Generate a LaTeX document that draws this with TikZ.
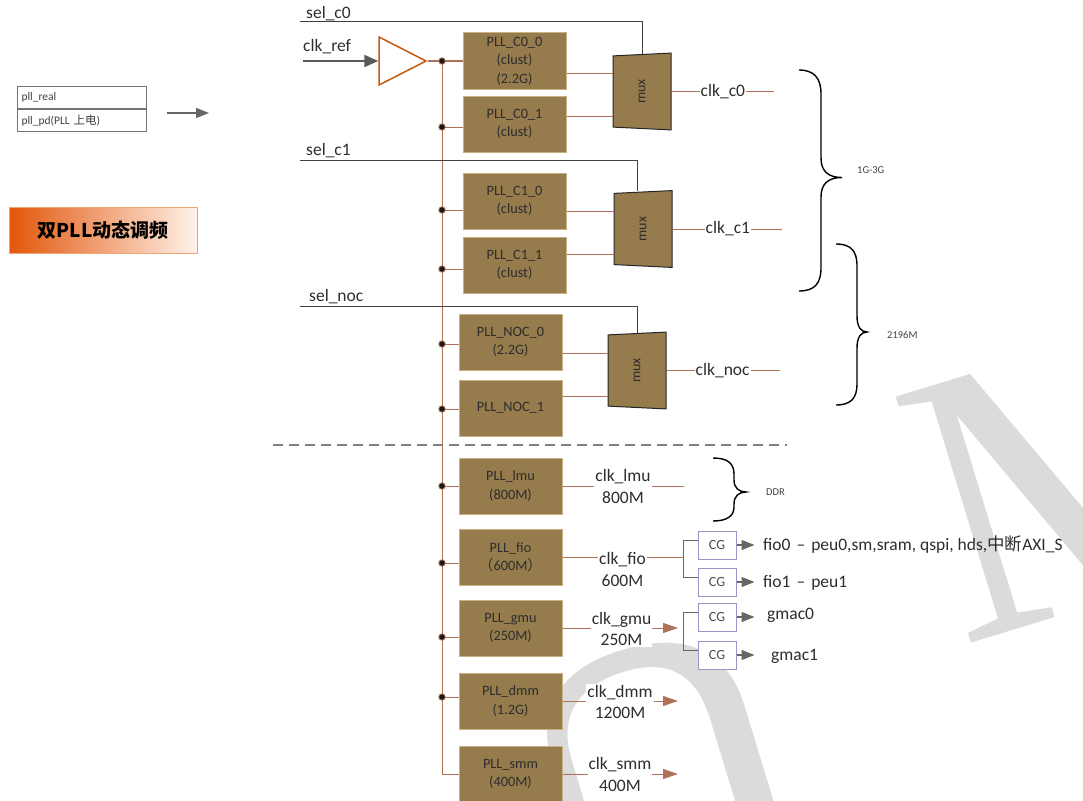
\documentclass[tikz,border=0pt]{standalone}
\usepackage{fontspec}
\setmainfont{Carlito}
\newfontfamily\cjk{Noto Sans CJK SC}
\newfontfamily\filifont{Liberation Serif}
\usetikzlibrary{positioning,shapes.geometric,arrows.meta}

\definecolor{brun}{RGB}{176,114,86}
\definecolor{bronze}{RGB}{150,123,76}
\definecolor{bordpll}{RGB}{200,178,132}
\definecolor{encre}{RGB}{45,45,45}
\definecolor{orangefonce}{RGB}{226,86,10}
\definecolor{orangebuf}{RGB}{197,90,17}
\definecolor{bordcg}{RGB}{150,150,200}

\tikzstyle{pll}=[rectangle,draw=bordpll,fill=bronze,line width=1pt,minimum width=103,minimum height=56,align=center,inner sep=0,text=encre,font=\fontsize{14.3}{18.5}\selectfont]
\tikzstyle{mux}=[trapezium,trapezium stretches=true,trapezium angle=82,rotate=90,draw=black!85,fill=bronze,line width=1pt,minimum width=77,minimum height=58,inner sep=0,text=encre,font=\fontsize{14}{16}\selectfont]
\tikzstyle{tampon}=[isosceles triangle,isosceles triangle stretches,draw=orangebuf,fill=white,line width=1.5pt,minimum width=48,minimum height=47,inner sep=0]
\tikzstyle{bus}=[draw=brun,line width=1pt]
\tikzstyle{sel}=[draw=black!75,line width=1pt]
\tikzstyle{pastille}=[circle,fill=black!90,draw=brun,line width=0.8pt,inner sep=0,minimum size=6.5]
\tikzstyle{cg}=[rectangle,draw=bordcg,fill=white,line width=1pt,minimum width=38,minimum height=28,inner sep=0,text=black!70,font=\fontsize{14}{16}\selectfont]
\tikzstyle{etiq}=[inner sep=1pt,text=encre,font=\fontsize{17.5}{21.5}\selectfont]
\tikzstyle{freq}=[etiq,fill=white,align=center]
\tikzstyle{petit}=[inner sep=0,text=black!75,font=\fontsize{10.5}{12}\selectfont]
\tikzstyle{legende}=[rectangle,draw=black!55,line width=0.8pt,minimum height=22,text width=120,inner xsep=4.5pt,inner ysep=0,align=left,text=black!75,font=\fontsize{11.5}{13}\selectfont]
\tikzstyle{titre}=[rectangle,draw={rgb,255:red,240;green,165;blue,120},line width=0.8pt,left color=orangefonce,middle color={rgb,255:red,245;green,135;blue,70},right color={rgb,255:red,255;green,242;blue,234},minimum width=188,minimum height=46,font=\cjk\bfseries\fontsize{19}{22}\selectfont]
\tikzstyle{accolade}=[draw=black,line width=1.4pt]
\tikzstyle{fourche}=[draw=black!60,line width=1pt]
\tikzstyle{flechegrise}=[draw=black!60,line width=1.2pt,-{Triangle[length=13pt,width=10pt]}]
\tikzstyle{flechebrune}=[draw=brun,line width=1pt,-{Triangle[length=15pt,width=10pt]}]
\tikzstyle{separateur}=[draw=black!50,line width=1.2pt,dash pattern=on 10pt off 6pt]
\tikzstyle{filigrane}=[inner sep=0,text=black!14,font=\filifont\fontsize{393}{393}\selectfont]

\begin{document}
\begin{tikzpicture}[x=1pt,y=-1pt]
\useasboundingbox (0,0) rectangle (1083,800);

% filigrane
\node[filigrane,rotate=197,anchor=south] (filiu) at (623,650) {U};
\node[filigrane,rotate=17,anchor=north west] (filim) at (885,400) {M};

% legende et titre
\node[legende] (leg1) at (81.5,97.5) {pll\_real};
\node[legende,below=0pt of leg1] (leg2) {pll\_pd(PLL {\cjk 上电})};
\coordinate (legA) at (167,113);
\coordinate (legB) at (209,113);
\draw[flechegrise] (legA) -- (legB);
\node[titre] (titre) at (103,230) {双PLL动态调频};

% entree et tampon
\node[tampon,anchor=apex] (buf) at (428,61) {};
\node[etiq,anchor=base west] (lclkref) at (302,52) {clk\_ref};
\coordinate (clkref) at (303,61);
\draw[draw=black!65,line width=2pt,-{Triangle[length=14pt,width=12pt]}] (clkref) -- (buf.west);

% PLL
\node[pll] (pllc00) at (514.5,61) {PLL\_C0\_0\\(clust)\\(2.2G)};
\node[pll] (pllc01) at (514.5,124) {PLL\_C0\_1\\(clust)};
\node[pll] (pllc10) at (514.5,201) {PLL\_C1\_0\\(clust)};
\node[pll] (pllc11) at (514.5,265) {PLL\_C1\_1\\(clust)};
\node[pll] (pllnoc0) at (510.5,342) {PLL\_NOC\_0\\(2.2G)};
\node[pll] (pllnoc1) at (510.5,408) {PLL\_NOC\_1};
\node[pll] (plllmu) at (510.5,486) {PLL\_lmu\\(800M)};
\node[pll] (pllfio) at (510.5,557) {PLL\_fio\\{\cjk （}600M{\cjk ）}};
\node[pll] (pllgmu) at (510.5,628) {PLL\_gmu\\(250M)};
\node[pll] (plldmm) at (510.5,701) {PLL\_dmm\\(1.2G)};
\node[pll] (pllsmm) at (510.5,774) {PLL\_smm\\(400M)};

% bus de reference
\coordinate (bus) at (442,61);
\draw[bus] (buf.apex) -- (pllc00.west);
\draw[bus] (bus) -- (bus |- pllsmm.west) -- (pllsmm.west);
\foreach \n/\y in {pllc01/127,pllc10/210,pllc11/269,pllnoc0/344,pllnoc1/409,plllmu/486,pllfio/563,pllgmu/637,plldmm/697}
  \draw[bus] (442,\y) -- (\n.west |- 442,\y);
\foreach \y in {61,127,210,269,344,409,486,563,637,697}
  \node[pastille] (d\y) at (442,\y) {};

% mux
\node[mux] (mc0) at (642,91.5) {mux};
\node[mux] (mc1) at (643,229) {mux};
\node[mux] (mnoc) at (637,370.5) {mux};

\foreach \m/\a/\b in {mc0/pllc00/pllc01,mc1/pllc10/pllc11,mnoc/pllnoc0/pllnoc1}{
  \coordinate (\m a) at ([yshift=17.5pt]\m.north);
  \coordinate (\m b) at ([yshift=-25.5pt]\m.north);
  \draw[bus] (\a.east |- \m a) -- (\m a);
  \draw[bus] (\b.east |- \m b) -- (\m b);
}

% selections
\coordinate (selc0) at (300,22);
\coordinate (selc1) at (300,160);
\coordinate (selnoc) at (300,306);
\node[etiq,anchor=base west] (lselc0) at (305,19) {sel\_c0};
\node[etiq,anchor=base west] (lselc1) at (305,155) {sel\_c1};
\node[etiq,anchor=base west] (lselnoc) at (308,301) {sel\_noc};
\draw[sel] (selc0) -| (mc0.east);
\draw[sel] (selc1) -| ([xshift=-6pt]mc1.east);
\draw[sel] (selnoc) -| (mnoc.east);

% sorties des mux
\node[etiq,right=28pt of mc0.south] (clkc0) {clk\_c0};
\node[etiq,right=32pt of mc1.south] (clkc1) {clk\_c1};
\node[etiq,right=28pt of mnoc.south] (clknoc) {clk\_noc};
\coordinate[right=28pt of clkc0.east] (c0fin);
\coordinate[right=31pt of clkc1.east] (c1fin);
\coordinate[right=29pt of clknoc.east] (nocfin);
\draw[bus] (mc0.south) -- (clkc0.west);
\draw[bus] (clkc0.east) -- (c0fin);
\draw[bus] (mc1.south) -- (clkc1.west);
\draw[bus] (clkc1.east) -- (c1fin);
\draw[bus] (mnoc.south) -- (clknoc.west);
\draw[bus] (clknoc.east) -- (nocfin);

% accolades
\draw[accolade] (799,70) .. controls (814,70) and (821,78) .. (821,94) -- (821,158)
  .. controls (821,171) and (828,177.5) .. (842,177.5)
  .. controls (828,177.5) and (821,184) .. (821,197) -- (821,268)
  .. controls (821,284) and (814,291) .. (799,291);
\node[petit,anchor=west] (l1g3g) at (857,170) {1G-3G};
\draw[accolade] (836,244) .. controls (851,244) and (857,251) .. (857,266) -- (857,316)
  .. controls (857,327) and (861,332) .. (867,332)
  .. controls (861,332) and (857,337) .. (857,348) -- (857,384)
  .. controls (857,398) and (851,405) .. (836,405);
\node[petit,anchor=west] (l2196) at (887,335) {2196M};
\draw[accolade] (713,458) .. controls (727,458) and (734,463) .. (734,474) -- (734,480)
  .. controls (734,488) and (739,492) .. (746,492)
  .. controls (739,492) and (734,496) .. (734,504) -- (734,507)
  .. controls (734,516) and (727,521) .. (713,521);
\node[petit,anchor=west] (lddr) at (766,492) {DDR};

% separation
\coordinate (sepA) at (273,445);
\coordinate (sepB) at (787,445);
\draw[separateur] (sepA) -- (sepB);

% sorties du bas
\coordinate (lmufin) at (684,486);
\coordinate (fiofork) at (683,557);
\coordinate (gmufork) at (683,628);
\coordinate (dmmfin) at (678,701);
\coordinate (smmfin) at (678,774);
\draw[bus] (plllmu.east) -- (lmufin);
\draw[bus] (pllfio.east) -- (fiofork);
\draw[flechebrune,shorten >=5pt] (pllgmu.east) -- (gmufork);
\draw[flechebrune] (plldmm.east) -- (dmmfin);
\draw[flechebrune] (pllsmm.east) -- (smmfin);
\node[freq] (clklmu) at (623,486.5) {clk\_lmu\\800M};
\node[freq] (clkfio) at (622.5,569.5) {clk\_fio\\600M};
\node[freq] (clkgmu) at (621.5,629) {clk\_gmu\\250M};
\node[freq] (clkdmm) at (620,702) {clk\_dmm\\1200M};
\node[freq] (clksmm) at (620,774.5) {clk\_smm\\400M};

% portes d'horloge
\node[cg] (cg0) at (717,545) {CG};
\node[cg] (cg1) at (717,582) {CG};
\node[cg] (cg2) at (717,617) {CG};
\node[cg] (cg3) at (717,655) {CG};
\draw[fourche] ([yshift=5pt]cg0.west) -| (fiofork) |- ([yshift=5pt]cg1.west);
\draw[fourche] ([yshift=5pt]cg2.west) -| (gmufork) |- ([yshift=5pt]cg3.west);
\foreach \c in {cg0,cg1,cg2,cg3}{
  \coordinate[right=18pt of \c.east] (\c fin);
  \draw[flechegrise] (\c.east) -- (\c fin);
}
\node[etiq,anchor=west] (lfio0) at (762,545) {fio0\hspace{6pt}–\hspace{6pt}peu0,sm,sram, qspi, hds,{\cjk 中断}AXI\_S};
\node[etiq,anchor=west] (lfio1) at (762,583) {fio1\hspace{6pt}–\hspace{6pt}peu1};
\node[etiq,anchor=west] (lgmac0) at (766,615) {gmac0};
\node[etiq,anchor=west] (lgmac1) at (770,656) {gmac1};

\end{tikzpicture}
\end{document}
